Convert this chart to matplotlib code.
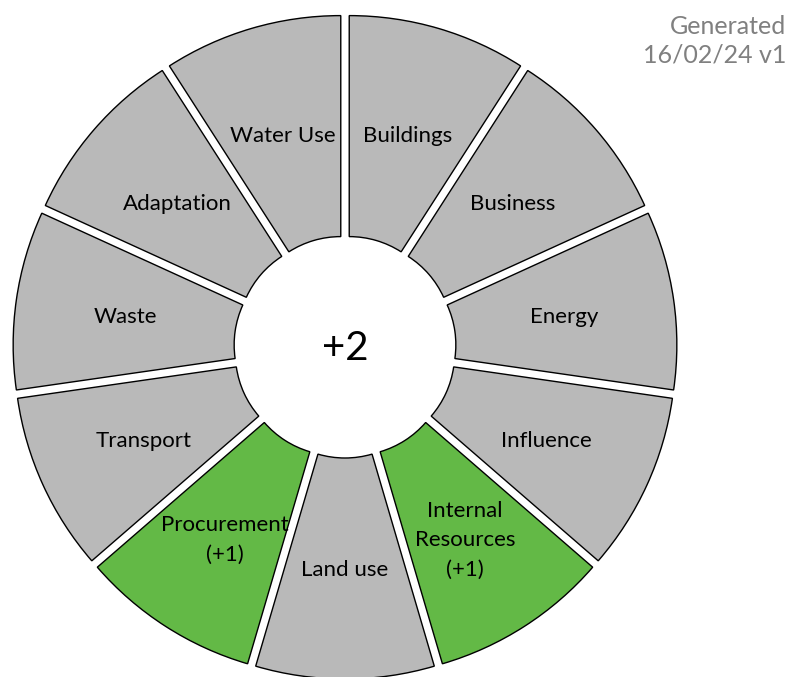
import matplotlib.pyplot as plt

plt.rcParams['font.family'] = ['Lato', 'DejaVu Sans']

# segments clockwise from 12 o'clock
categories = ["Buildings", "Business", "Energy", "Influence", "Internal\nResources",
              "Land use", "Procurement", "Transport", "Waste", "Adaptation", "Water Use"]
scores = [0, 0, 0, 0, 1, 0, 1, 0, 0, 0, 0]
sizes = [1] * len(categories)

grey = "#b9b9b9"
green = "#63b946"

labels = []
colors = []
for name, s in zip(categories, scores):
    if s > 0:
        labels.append(f"{name}\n(+{s})")
        colors.append(green)
    else:
        labels.append(name)
        colors.append(grey)

fig = plt.figure(figsize=(7.88, 6.77), dpi=100)
ax = fig.add_axes([0, 0, 1, 1])

R = 317
ring = 221
ax.pie(sizes, labels=labels, colors=colors, startangle=90, counterclock=False,
       center=(345, 330), radius=R, explode=[15] * len(sizes),
       labeldistance=(R - ring / 2) / R,
       wedgeprops=dict(width=ring, edgecolor="black", linewidth=1.0),
       textprops=dict(ha="center", va="center_baseline", fontsize=16, color="black",
                      linespacing=1.6))

total = sum(scores)
ax.text(345, 328, f"+{total}", ha="center", va="center", fontsize=29)

ax.text(786, 662, "Generated\n16/02/24 v1", ha="right", va="top",
        fontsize=18, color="#808080", linespacing=1.3)

ax.set_xlim(0, 788)
ax.set_ylim(0, 677)
ax.set_aspect("equal")
ax.axis("off")

fig.savefig("out.png", dpi=100)
